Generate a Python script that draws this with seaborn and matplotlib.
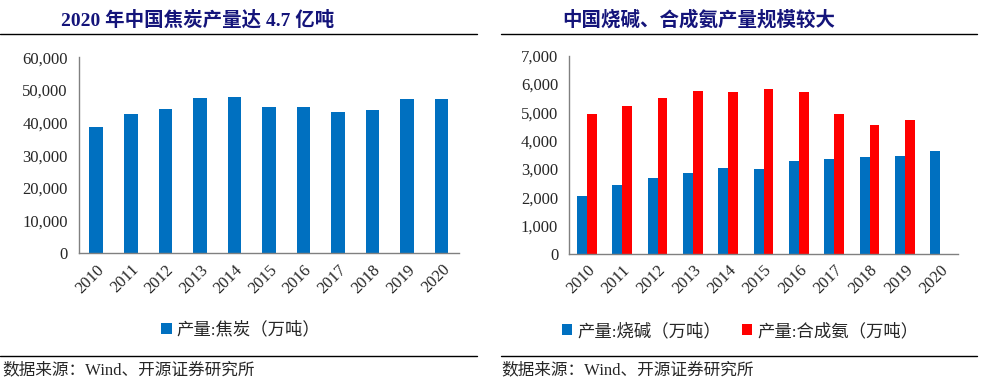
import pandas as pd
import seaborn as sns
import matplotlib.pyplot as plt
from matplotlib.lines import Line2D
from matplotlib.ticker import FuncFormatter, MultipleLocator
import numpy as np

# data
years = ['2010', '2011', '2012', '2013', '2014', '2015', '2016', '2017', '2018', '2019', '2020']
coke = [38800, 42700, 44300, 47600, 47900, 44800, 44900, 43200, 43800, 47100, 47100]
caustic_soda = [2060, 2440, 2700, 2860, 3050, 3010, 3270, 3360, 3420, 3460, 3650]
ammonia = [4950, 5230, 5520, 5750, 5720, 5810, 5720, 4950, 4560, 4740, np.nan]

coke_label = '产量:焦炭（万吨）'
soda_label = '产量:烧碱（万吨）'
ammonia_label = '产量:合成氨（万吨）'

blue = '#0070C0'
red = '#FF0000'
title_color = '#14147A'

sns.set_style('white')
plt.rcParams['font.family'] = ['Liberation Serif', 'Noto Sans CJK SC']

fig = plt.figure(figsize=(9.82, 3.9), dpi=100)
ax1 = fig.add_axes([0.0804, 0.3505, 0.387, 0.5026])
ax2 = fig.add_axes([0.5797, 0.3487, 0.3958, 0.5085])

df1 = pd.DataFrame({'year': years, 'value': coke, 'series': coke_label})
sns.barplot(data=df1, x='year', y='value', hue='series', palette=[blue],
            width=0.39, ax=ax1, saturation=1, linewidth=0)
ax1.set_ylim(0, 60000)
ax1.yaxis.set_major_locator(MultipleLocator(10000))

df2 = pd.concat([
    pd.DataFrame({'year': years, 'value': caustic_soda, 'series': soda_label}),
    pd.DataFrame({'year': years, 'value': ammonia, 'series': ammonia_label}),
], ignore_index=True)
sns.barplot(data=df2, x='year', y='value', hue='series', palette=[blue, red],
            width=0.56, ax=ax2, saturation=1, linewidth=0)
ax2.set_ylim(0, 7000)
ax2.yaxis.set_major_locator(MultipleLocator(1000))

fmt = FuncFormatter(lambda v, p: f'{int(v):,}')
legend_x = {ax1: 0.426, ax2: 0.44}
for ax in (ax1, ax2):
    ax.set_xlabel('')
    ax.set_ylabel('')
    ax.set_xlim(-0.5, len(years) - 0.5)
    ax.yaxis.set_major_formatter(fmt)
    for s in ('top', 'right'):
        ax.spines[s].set_visible(False)
    for s in ('left', 'bottom'):
        ax.spines[s].set_color('#808080')
        ax.spines[s].set_linewidth(1)
    ax.tick_params(axis='y', direction='in', length=4, color='#808080',
                   labelsize=12, pad=8)
    ax.tick_params(axis='x', which='major', length=0, labelsize=12,
                   labelrotation=45, pad=6)
    ax.set_xticks(np.arange(0.5, len(years) - 0.5), minor=True)
    ax.tick_params(axis='x', which='minor', direction='out', length=4,
                   color='#808080')
    for lab in ax.get_xticklabels():
        lab.set_ha('right')
        lab.set_rotation_mode('anchor')
    h, l = ax.get_legend_handles_labels()
    ax.legend(h, l, loc='upper center', bbox_to_anchor=(legend_x[ax], -0.27),
              ncol=2, frameon=False, fontsize=12.5, handlelength=0.6,
              handleheight=0.6, handletextpad=0.3, columnspacing=1.2)

# titles and rules
fig.text(0.201, 0.948, '2020 年中国焦炭产量达 4.7 亿吨', ha='center', va='center',
         fontsize=14, fontweight='bold', color=title_color)
fig.text(0.712, 0.948, '中国烧碱、合成氨产量规模较大', ha='center', va='center',
         fontsize=14, fontweight='bold', color=title_color)
for x0, x1 in ((0.0, 0.486), (0.510, 0.995)):
    fig.add_artist(Line2D([x0, x1], [0.913, 0.913], color='black', lw=1,
                          transform=fig.transFigure))
    fig.add_artist(Line2D([x0, x1], [0.087, 0.087], color='black', lw=1,
                          transform=fig.transFigure))
fig.text(0.002, 0.05, '数据来源：Wind、开源证券研究所', ha='left', va='center', fontsize=12)
fig.text(0.511, 0.05, '数据来源：Wind、开源证券研究所', ha='left', va='center', fontsize=12)

fig.savefig('out.png', dpi=100)
